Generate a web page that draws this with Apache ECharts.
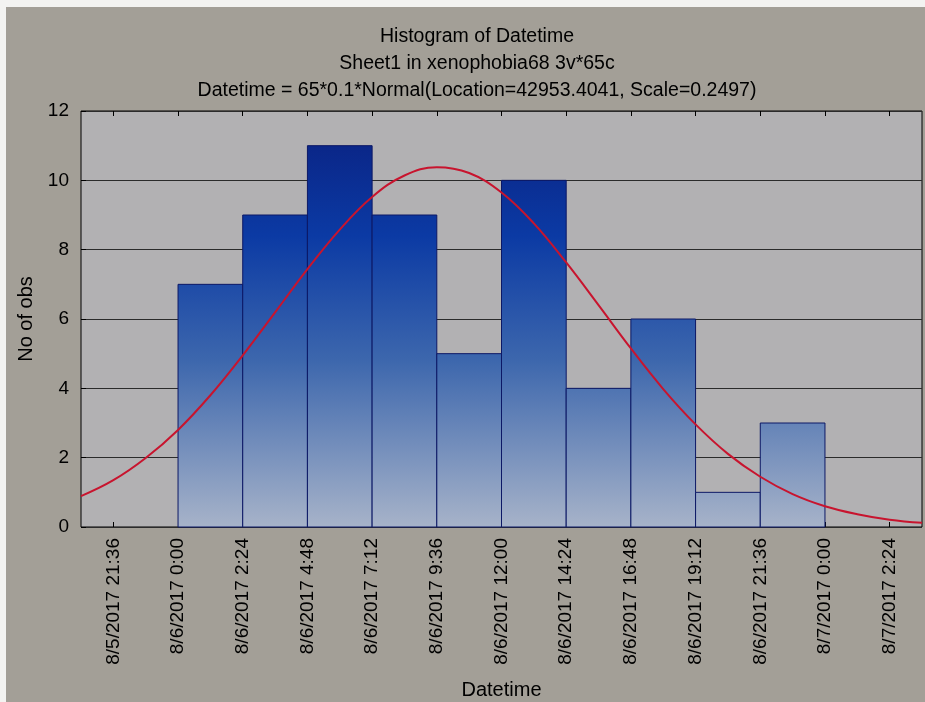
<!DOCTYPE html>
<html>
<head>
<meta charset="utf-8">
<title>Histogram of Datetime</title>
<script src="https://cdn.jsdelivr.net/npm/echarts@6/dist/echarts.min.js"></script>
<style>
  html, body { margin: 0; padding: 0; background: #f3f3f1; }
  #chart { position: absolute; left: 6px; top: 7px; width: 919px; height: 695px; background: #a39f97; }
</style>
</head>
<body>
<div id="chart"></div>
<script>
// Dates are spreadsheet serial days (42953 = 8/6/2017 0:00); each bin is 0.1 day wide.
const binStarts = [42953.0, 42953.1, 42953.2, 42953.3, 42953.4, 42953.5, 42953.6, 42953.7, 42953.8, 42953.9];
const binWidth = 0.1;
const counts = [7, 9, 11, 9, 5, 10, 4, 6, 1, 3];

// Axis ticks and their labels
const tickValues = [42952.9, 42953.0, 42953.1, 42953.2, 42953.3, 42953.4, 42953.5,
                    42953.6, 42953.7, 42953.8, 42953.9, 42954.0, 42954.1];
const tickLabels = ['8/5/2017 21:36', '8/6/2017 0:00', '8/6/2017 2:24', '8/6/2017 4:48',
                    '8/6/2017 7:12', '8/6/2017 9:36', '8/6/2017 12:00', '8/6/2017 14:24',
                    '8/6/2017 16:48', '8/6/2017 19:12', '8/6/2017 21:36', '8/7/2017 0:00',
                    '8/7/2017 2:24'];

// Fitted normal curve (expected counts per bin)
const curveX = [42952.85, 42952.90, 42952.95, 42953.00, 42953.05, 42953.10, 42953.15, 42953.20, 42953.25,
                42953.30, 42953.35, 42953.40, 42953.45, 42953.50, 42953.55, 42953.60, 42953.65, 42953.70,
                42953.75, 42953.80, 42953.85, 42953.90, 42953.95, 42954.00, 42954.05, 42954.10, 42954.15];
const curveY = [0.89, 1.35, 1.99, 2.80, 3.80, 4.95, 6.19, 7.44, 8.58,
                9.52, 10.14, 10.38, 10.21, 9.65, 8.76, 7.63, 6.40, 5.15,
                3.98, 2.96, 2.11, 1.45, 0.95, 0.60, 0.37, 0.21, 0.12];

const xMin = 42952.85, xMax = 42954.15;
const FONT = "'Liberation Sans', Arial, sans-serif";

function labelFor(v) {
  for (let i = 0; i < tickValues.length; i++) {
    if (Math.abs(tickValues[i] - v) < 1e-6) return tickLabels[i];
  }
  return '';
}

const chart = echarts.init(document.getElementById('chart'), null, { renderer: 'canvas' });

const barFillStops = [
  { offset: 0.00, color: '#0a1f7e' },
  { offset: 0.30, color: '#0b3aa4' },
  { offset: 0.60, color: '#3d67ad' },
  { offset: 1.00, color: '#a7b3c9' }
];

chart.setOption({
  animation: false,
  textStyle: { fontFamily: FONT },
  title: {
    text: 'Histogram of Datetime\nSheet1 in xenophobia68 3v*65c\nDatetime = 65*0.1*Normal(Location=42953.4041, Scale=0.2497)',
    left: 466,
    top: 11,
    textAlign: 'center',
    textStyle: { fontFamily: FONT, fontSize: 19.5, fontWeight: 'normal', color: '#000', lineHeight: 27 }
  },
  grid: {
    left: 75, top: 104, right: 3, bottom: 175,
    outerBoundsMode: 'none',
    show: true, backgroundColor: '#b2b1b3', borderColor: '#000', borderWidth: 1
  },
  xAxis: [{
    type: 'value', min: xMin, max: xMax, position: 'bottom',
    name: 'Datetime', nameLocation: 'middle', nameGap: 153,
    nameTextStyle: { fontFamily: FONT, fontSize: 20, color: '#000' },
    axisLine: { show: false },
    axisTick: { show: true, inside: true, length: 5, customValues: tickValues, lineStyle: { color: '#000' } },
    axisLabel: { customValues: tickValues, rotate: 90, margin: 11, fontSize: 19, color: '#000', formatter: labelFor },
    splitLine: { show: false }
  }, {
    type: 'value', min: xMin, max: xMax, position: 'top',
    axisLine: { show: false },
    axisTick: { show: true, inside: true, length: 5, customValues: tickValues, lineStyle: { color: '#000' } },
    axisLabel: { show: false },
    splitLine: { show: false }
  }],
  yAxis: {
    type: 'value', min: 0, max: 12, interval: 2,
    name: 'No of obs', nameLocation: 'middle', nameGap: 41, nameRotate: 90,
    nameTextStyle: { fontFamily: FONT, fontSize: 20, color: '#000' },
    axisLine: { show: false },
    axisTick: { show: true, inside: true, length: 5, lineStyle: { color: '#000' } },
    axisLabel: { margin: 12, fontSize: 19, color: '#000' },
    splitLine: { show: true, lineStyle: { color: '#2b2b2b', width: 1 } }
  },
  series: [{
    type: 'custom',
    xAxisIndex: 0,
    data: binStarts.map((s, i) => [s, s + binWidth, counts[i]]),
    encode: { x: [0, 1], y: 2 },
    renderItem: function (params, api) {
      const x0 = api.value(0), x1 = api.value(1), c = api.value(2);
      const pTop = api.coord([x0, c]);
      const pBot = api.coord([x1, 0]);
      const yFull = api.coord([x0, 12])[1];
      const yZero = api.coord([x0, 0])[1];
      return {
        type: 'rect',
        shape: { x: pTop[0], y: pTop[1], width: pBot[0] - pTop[0], height: pBot[1] - pTop[1] },
        style: {
          fill: { type: 'linear', x: 0, y: yFull, x2: 0, y2: yZero, global: true, colorStops: barFillStops },
          stroke: '#0c1866', lineWidth: 1
        }
      };
    },
    z: 2
  }, {
    type: 'line',
    xAxisIndex: 0,
    data: curveX.map((x, i) => [x, curveY[i]]),
    showSymbol: false,
    smooth: 0.4,
    lineStyle: { color: '#c8142e', width: 2 },
    z: 3
  }]
});
</script>
</body>
</html>
